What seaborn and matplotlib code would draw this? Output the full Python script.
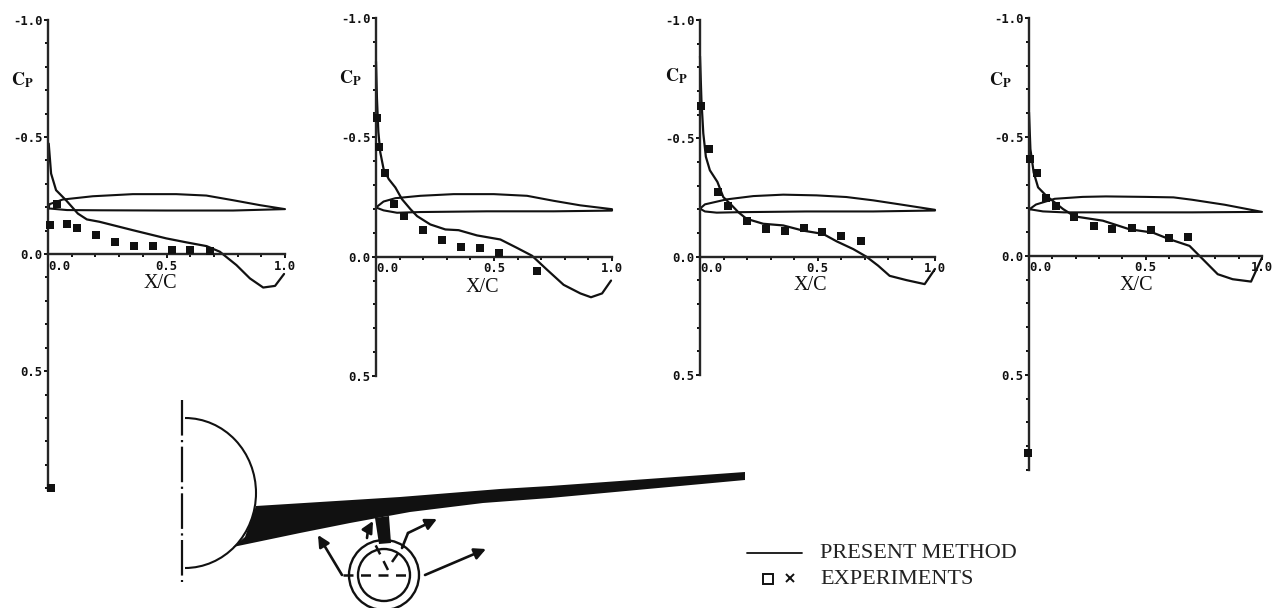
import matplotlib.pyplot as plt
import numpy as np
import seaborn as sns
from matplotlib.patches import Arc, Circle, Polygon

# Cp curves
p1_line_x = [.003, .013, .034, .076, .126, .164, .217, .358, .499, .584, .669, .725, .795, .852, .908, .958, .996]
p1_line_cp = [-.472, -.344, -.273, -.230, -.173, -.148, -.138, -.102, -.067, -.050, -.034, -.010, .047, .104, .143, .136, .085]
p2_line_x = [0, .004, .010, .018, .032, .054, .082, .110, .146, .174, .230, .294, .350, .428, .527, .597, .661, .725, .795, .866, .911, .958, .996]
p2_line_cp = [-.818, -.663, -.523, -.438, -.368, -.325, -.290, -.241, -.199, -.170, -.135, -.114, -.111, -.089, -.072, -.037, -.004, .055, .118, .154, .170, .154, .100]
p3_line_x = [0, .006, .014, .025, .042, .074, .099, .135, .163, .198, .269, .354, .439, .524, .581, .652, .708, .758, .807, .878, .956, 1.0]
p3_line_cp = [-.847, -.663, -.521, -.422, -.365, -.316, -.252, -.217, -.188, -.160, -.139, -.132, -.110, -.096, -.065, -.032, 0, .038, .081, .099, .116, .052]
p4_line_x = [0, .006, .020, .039, .074, .110, .146, .196, .317, .431, .531, .603, .689, .739, .810, .874, .953, 1.0]
p4_line_cp = [-.604, -.449, -.351, -.288, -.253, -.225, -.197, -.166, -.148, -.112, -.098, -.070, -.042, .007, .077, .098, .108, .007]

# experiment points
p1_exp_x = [.008, .037, .080, .121, .202, .281, .361, .441, .522, .601, .683, .013]
p1_exp_cp = [-.124, -.213, -.129, -.111, -.080, -.050, -.034, -.034, -.018, -.018, -.014, 1.0]
p2_exp_x = [.006, .013, .037, .076, .117, .199, .281, .362, .442, .521, .682]
p2_exp_cp = [-.579, -.459, -.351, -.220, -.170, -.110, -.069, -.042, -.035, -.015, .059]
p3_exp_x = [.004, .038, .078, .118, .198, .280, .361, .441, .521, .602, .683]
p3_exp_cp = [-.635, -.455, -.273, -.212, -.150, -.118, -.110, -.120, -.106, -.086, -.065]
p4_exp_x = [.006, .034, .074, .114, .194, .277, .357, .440, .523, .603, .683, -.005]
p4_exp_cp = [-.407, -.347, -.243, -.208, -.162, -.126, -.112, -.118, -.110, -.077, -.079, .827]

# airfoil section outlines
p1_foil_x = [.003, .006, .062, .189, .358, .541, .668, .781, .894, 1.0, .781, .500, .220, .080, .003]
p1_foil_y = [-.195, -.213, -.233, -.247, -.256, -.256, -.250, -.230, -.209, -.192, -.186, -.186, -.187, -.188, -.195]
p2_foil_x = [0, .032, .082, .188, .329, .499, .640, .753, .866, 1.0, 1.0, .753, .470, .188, .089, .032, 0]
p2_foil_y = [-.206, -.231, -.245, -.255, -.262, -.262, -.255, -.234, -.215, -.199, -.193, -.190, -.190, -.187, -.184, -.194, -.206]
p3_foil_x = [0, .021, .113, .227, .354, .496, .623, .737, .850, 1.0, 1.0, .737, .453, .170, .071, .021, 0]
p3_foil_y = [-.203, -.221, -.242, -.256, -.262, -.259, -.252, -.238, -.221, -.198, -.195, -.191, -.191, -.188, -.186, -.191, -.203]
p4_foil_x = [0, .030, .110, .230, .330, .500, .620, .700, .840, 1.0, .700, .430, .150, .060, .010, 0]
p4_foil_y = [-.195, -.216, -.240, -.248, -.250, -.248, -.246, -.236, -.215, -.185, -.183, -.183, -.183, -.187, -.195, -.195]

y_ticks = [-1.0, -0.5, 0.0, 0.5]
y_tick_labels = ["-1.0", "-0.5", "0.0", "0.5"]
x_ticks = [0.0, 0.5, 1.0]
x_tick_labels = ["0.0", "0.5", "1.0"]

# wing sketch under the panels, in image pixels
wing_x = [256, 400, 500, 550, 745, 745, 550, 483, 410, 350, 300, 233, 245]
wing_y = [506, 497, 489, 486, 472, 480, 498, 503, 512, 523, 533, 547, 537]
pylon_x = [375, 389, 391, 379]
pylon_y = [518, 516, 543, 544]

W, H = 1276, 608
INK = "#111111"


def draw_panel(box, ymax, line, exp, foil, cp_pos, xc_pos):
    left, right, top, bottom = box
    ax = fig.add_axes([left / W, 1 - bottom / H, (right - left) / W, (bottom - top) / H])
    ax.set_xlim(0, 1)
    ax.set_ylim(ymax, -1.0)
    ax.patch.set_alpha(0)
    sns.lineplot(x=foil[0], y=foil[1], sort=False, estimator=None, color=INK, lw=1.5, ax=ax, clip_on=False)
    sns.lineplot(x=line[0], y=line[1], sort=False, estimator=None, color=INK, lw=1.6, ax=ax, clip_on=False)
    sns.scatterplot(x=exp[0], y=exp[1], marker="s", s=26, color=INK, linewidth=0, ax=ax, clip_on=False, zorder=4)
    sns.despine(ax=ax, top=True, right=True)
    ax.spines["left"].set_position(("data", 0))
    ax.spines["bottom"].set_position(("data", 0))
    ax.spines["left"].set_linewidth(1.7)
    ax.spines["bottom"].set_linewidth(1.7)
    ax.set_yticks(y_ticks, y_tick_labels)
    ax.set_xticks(x_ticks, x_tick_labels)
    ax.set_yticks(np.arange(-1.0, ymax + 0.01, 0.1), minor=True)
    ax.set_xticks(np.arange(0, 1.01, 0.1), minor=True)
    ax.tick_params(which="both", left=True, bottom=True, color=INK)
    ax.tick_params(which="major", length=3, width=1.4, pad=1)
    ax.tick_params(which="minor", length=2, width=1.4)
    for lab in ax.get_xticklabels() + ax.get_yticklabels():
        lab.set(family="DejaVu Sans Mono", weight="bold", fontsize=8.8, color=INK)
    ax.get_xticklabels()[0].set_ha("left")
    ax.set(xlabel="", ylabel="")
    sketch.text(cp_pos[0], cp_pos[1], r"$\mathbf{C_P}$", fontsize=13, ha="center", va="center", color=INK)
    sketch.text(xc_pos[0], xc_pos[1], "X/C", family="Liberation Serif", fontsize=14.5, ha="center", va="center", color=INK)


def arrow(points, lw=1.9):
    xs = [p[0] for p in points]
    ys = [p[1] for p in points]
    sketch.plot(xs[:-1], ys[:-1], color=INK, lw=lw)
    sketch.annotate("", xy=points[-1], xytext=points[-2],
                    arrowprops=dict(arrowstyle="-|>", color=INK, lw=lw, mutation_scale=17, shrinkA=0, shrinkB=0))


sns.set_theme(style="white")
plt.rcParams["mathtext.fontset"] = "stix"
fig = plt.figure(figsize=(W / 100, H / 100), dpi=100, facecolor="white")

sketch = fig.add_axes([0, 0, 1, 1])
sketch.set_xlim(0, W)
sketch.set_ylim(H, 0)
sketch.axis("off")

draw_panel((48, 285, 20, 490), 1.008, (p1_line_x, p1_line_cp), (p1_exp_x, p1_exp_cp), (p1_foil_x, p1_foil_y), (22, 80), (160, 284))
draw_panel((376, 612, 18, 376), 0.50, (p2_line_x, p2_line_cp), (p2_exp_x, p2_exp_cp), (p2_foil_x, p2_foil_y), (350, 78), (482, 287))
draw_panel((700, 935, 20, 375), 0.50, (p3_line_x, p3_line_cp), (p3_exp_x, p3_exp_cp), (p3_foil_x, p3_foil_y), (676, 76), (810, 285))
draw_panel((1029, 1262, 18, 470), 0.90, (p4_line_x, p4_line_cp), (p4_exp_x, p4_exp_cp), (p4_foil_x, p4_foil_y), (1000, 80), (1136, 286))

# fuselage and wing
sketch.plot([182, 182], [400, 582], color=INK, lw=1.6, ls=(0, (16, 2, 1, 2)))
sketch.add_patch(Arc((185, 493), 142, 150, theta1=-90, theta2=90, color=INK, lw=1.5))
sketch.add_patch(Polygon(np.column_stack([wing_x, wing_y]), closed=True, color=INK, lw=0))
sketch.add_patch(Polygon(np.column_stack([pylon_x, pylon_y]), closed=True, color=INK, lw=0))

# nacelle section and flow arrows
sketch.add_patch(Circle((384, 575), 35, fill=False, color=INK, lw=1.7))
sketch.add_patch(Circle((384, 575), 26, fill=False, color=INK, lw=1.7))
sketch.plot([343, 413], [575, 575], color=INK, lw=1.8, ls=(0, (4, 3)))
sketch.plot([388, 374], [570, 542], color=INK, lw=1.8, ls=(0, (4, 3)))
sketch.plot([392, 404], [562, 545], color=INK, lw=1.8, ls=(0, (4, 3)))
arrow([(342, 575), (318, 535)])
arrow([(367, 538), (368, 530), (373, 521)])
arrow([(402, 548), (408, 533), (437, 519)])
arrow([(425, 575), (486, 549)])

# key
sketch.plot([747, 802], [553, 553], color=INK, lw=1.3)
sketch.text(820, 554, "PRESENT METHOD", family="Liberation Serif", fontsize=16, va="center", color="#222222")
sketch.plot([768], [579], marker="s", ms=6.5, mfc="none", mec=INK, mew=1.4)
sketch.plot([790], [578], marker="x", ms=6, mec=INK, mew=1.4)
sketch.text(820, 579, "EXPERIMENTS", family="Liberation Serif", fontsize=16, va="center", color="#222222")

plt.savefig("out.png", dpi=100, facecolor="white")
